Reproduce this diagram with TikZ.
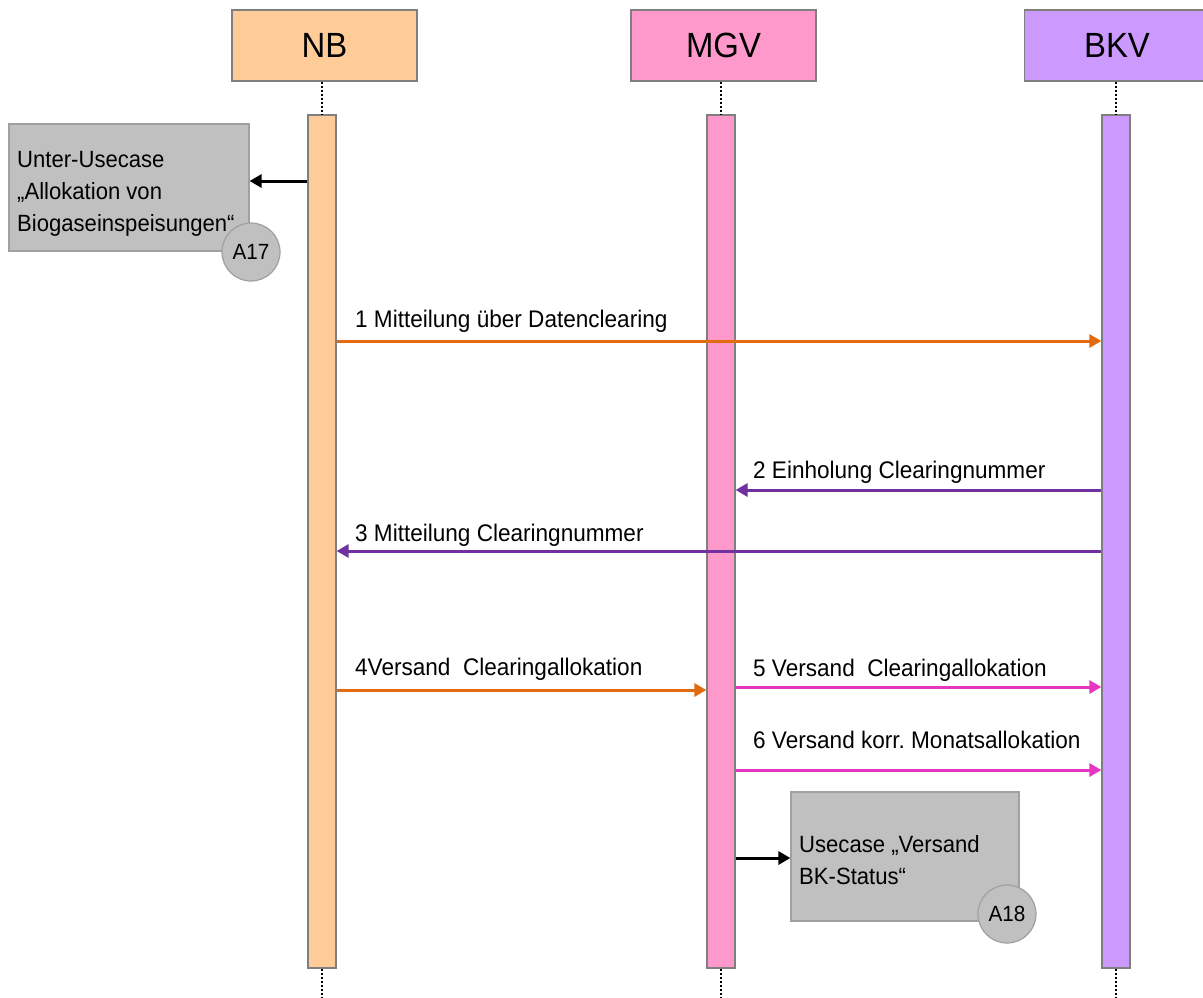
\documentclass[tikz,border=0pt]{standalone}
\usepackage{fontspec}
\setmainfont{Liberation Sans}[FakeStretch=0.94]
\usetikzlibrary{arrows.meta}
\definecolor{nbfill}{HTML}{FFCC99}
\definecolor{mgvfill}{HTML}{FF99CC}
\definecolor{bkvfill}{HTML}{CC99FF}
\definecolor{boxgray}{HTML}{C0C0C0}
\definecolor{boxline}{HTML}{A0A0A0}
\definecolor{edgegray}{HTML}{7F7F7F}
\definecolor{arrorange}{HTML}{E26B10}
\definecolor{arrpurple}{HTML}{7030A0}
\definecolor{arrmagenta}{HTML}{E636C0}
\frenchspacing
\begin{document}
\begin{tikzpicture}[x=1pt,y=-1pt,
  head/.style={draw=edgegray, line width=1.2pt, minimum width=185pt, minimum height=71pt, inner sep=0pt, font=\fontsize{35}{40}\selectfont},
  actbar/.style={draw=edgegray, line width=1.2pt, minimum width=28pt, minimum height=853pt, inner sep=0pt},
  graybox/.style={draw=boxline, fill=boxgray, line width=1.2pt, inner sep=0pt},
  tag/.style={circle, draw=boxline, fill=boxgray, line width=1.2pt, minimum size=58pt, inner sep=0pt, font=\fontsize{22}{26}\selectfont},
  boxtext/.style={anchor=north west, inner sep=0pt, align=left, font=\fontsize{23.5}{32}\selectfont},
  lbl/.style={anchor=base west, inner sep=0pt, font=\fontsize{24}{28}\selectfont},
  life/.style={line width=2.2pt, dash pattern=on 2pt off 2pt},
  msg/.style={line width=3pt, -{Triangle[length=12pt,width=13pt]}},
  blk/.style={msg, draw=black}
]
\useasboundingbox (0,0) rectangle (1203,997);

% headers
\node[head, fill=nbfill] (nb) at (324.5,45.5) {NB};
\node[head, fill=mgvfill] (mgv) at (723.5,45.5) {MGV};
\node[head, fill=bkvfill] (bkv) at (1117,45.5) {BKV};

% activation bars
\node[actbar, fill=nbfill] (nbbar) at (322,541.5) {};
\node[actbar, fill=mgvfill] (mgvbar) at (721,541.5) {};
\node[actbar, fill=bkvfill] (bkvbar) at (1116,541.5) {};

% lifelines
\coordinate (nbend) at (322,997);
\coordinate (mgvend) at (721,997);
\coordinate (bkvend) at (1116,997);
\draw[life] (nbbar.north |- nb.south) -- (nbbar.north);
\draw[life] (mgvbar.north |- mgv.south) -- (mgvbar.north);
\draw[life] (bkvbar.north |- bkv.south) -- (bkvbar.north);
\draw[life] (nbbar.south) -- (nbend);
\draw[life] (mgvbar.south) -- (mgvend);
\draw[life] (bkvbar.south) -- (bkvend);

% sub use case A17
\node[graybox, minimum width=240pt, minimum height=127pt] (box17) at (129,187.5) {};
\node[boxtext] (box17text) at (17,151) {Unter-Usecase\\„Allokation von\\Biogaseinspeisungen“};
\node[tag] (tag17) at (251,252) {A17};
\draw[blk] (nbbar.west |- 0,181) -- (box17.east |- 0,181);

% use case A18
\node[graybox, minimum width=228pt, minimum height=129pt] (box18) at (905,856.5) {};
\node[boxtext] (box18text) at (799,835.5) {Usecase „Versand\\BK-Status“};
\node[tag] (tag18) at (1007,914) {A18};
\draw[blk] (mgvbar.east |- 0,858) -- (box18.west |- 0,858);

% messages
\draw[msg, draw=arrorange] (nbbar.east |- 0,341) -- (bkvbar.west |- 0,341);
\node[lbl] (l1) at (355,327) {1 Mitteilung über Datenclearing};

\draw[msg, draw=arrpurple] (bkvbar.west |- 0,490) -- (mgvbar.east |- 0,490);
\node[lbl] (l2) at (753,478) {2 Einholung Clearingnummer};

\draw[msg, draw=arrpurple] (bkvbar.west |- 0,551) -- (nbbar.east |- 0,551);
\node[lbl] (l3) at (355,541) {3 Mitteilung Clearingnummer};

\draw[msg, draw=arrorange] (nbbar.east |- 0,690) -- (mgvbar.west |- 0,690);
\node[lbl] (l4) at (355,675) {4Versand\ \ Clearingallokation};

\draw[msg, draw=arrmagenta] (mgvbar.east |- 0,687) -- (bkvbar.west |- 0,687);
\node[lbl] (l5) at (753,676) {5 Versand\ \ Clearingallokation};

\draw[msg, draw=arrmagenta] (mgvbar.east |- 0,770) -- (bkvbar.west |- 0,770);
\node[lbl] (l6) at (753,748) {6 Versand korr. Monatsallokation};
\end{tikzpicture}
\end{document}
